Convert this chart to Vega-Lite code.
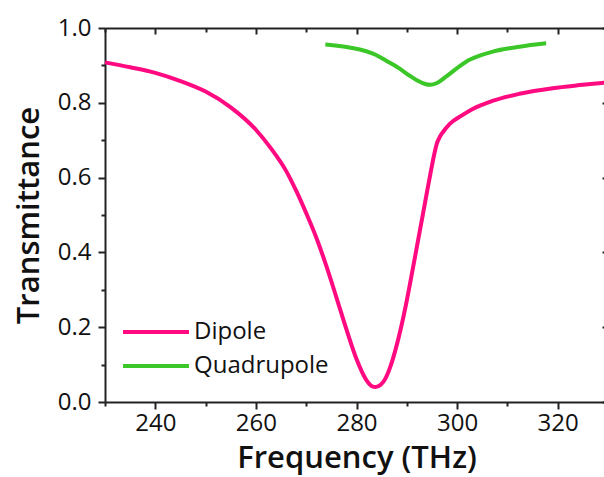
{
  "$schema": "https://vega.github.io/schema/vega-lite/v6.json",
  "width": 503,
  "height": 374,
  "autosize": {"type": "none"},
  "padding": {"left": 105, "top": 28, "right": 0, "bottom": 75},
  "background": "white",
  "config": {
    "view": {"stroke": null},
    "font": "Open Sans",
    "axis": {"domainColor": "#222", "domainWidth": 2, "tickColor": "#222", "tickWidth": 2, "grid": false, "labelColor": "#111", "titleColor": "#111"}
  },
  "datasets": {
    "curves": [
      {"series": "Dipole", "f": 230, "T": 0.908},
      {"series": "Dipole", "f": 235, "T": 0.895},
      {"series": "Dipole", "f": 240, "T": 0.880},
      {"series": "Dipole", "f": 245, "T": 0.858},
      {"series": "Dipole", "f": 250, "T": 0.830},
      {"series": "Dipole", "f": 255, "T": 0.788},
      {"series": "Dipole", "f": 260, "T": 0.728},
      {"series": "Dipole", "f": 263, "T": 0.678},
      {"series": "Dipole", "f": 266, "T": 0.618},
      {"series": "Dipole", "f": 268, "T": 0.565},
      {"series": "Dipole", "f": 270, "T": 0.505},
      {"series": "Dipole", "f": 272, "T": 0.440},
      {"series": "Dipole", "f": 274, "T": 0.364},
      {"series": "Dipole", "f": 276, "T": 0.280},
      {"series": "Dipole", "f": 278, "T": 0.194},
      {"series": "Dipole", "f": 280, "T": 0.115},
      {"series": "Dipole", "f": 281.9, "T": 0.060},
      {"series": "Dipole", "f": 283, "T": 0.043},
      {"series": "Dipole", "f": 283.8, "T": 0.040},
      {"series": "Dipole", "f": 284.8, "T": 0.046},
      {"series": "Dipole", "f": 285.8, "T": 0.064},
      {"series": "Dipole", "f": 286.8, "T": 0.097},
      {"series": "Dipole", "f": 287.8, "T": 0.142},
      {"series": "Dipole", "f": 288.8, "T": 0.196},
      {"series": "Dipole", "f": 289.8, "T": 0.258},
      {"series": "Dipole", "f": 290.8, "T": 0.328},
      {"series": "Dipole", "f": 291.8, "T": 0.400},
      {"series": "Dipole", "f": 292.8, "T": 0.473},
      {"series": "Dipole", "f": 293.8, "T": 0.546},
      {"series": "Dipole", "f": 294.8, "T": 0.618},
      {"series": "Dipole", "f": 295.5, "T": 0.665},
      {"series": "Dipole", "f": 296, "T": 0.692},
      {"series": "Dipole", "f": 296.6, "T": 0.710},
      {"series": "Dipole", "f": 297.2, "T": 0.722},
      {"series": "Dipole", "f": 298.5, "T": 0.743},
      {"series": "Dipole", "f": 300.8, "T": 0.765},
      {"series": "Dipole", "f": 303, "T": 0.783},
      {"series": "Dipole", "f": 307, "T": 0.805},
      {"series": "Dipole", "f": 312.4, "T": 0.824},
      {"series": "Dipole", "f": 319, "T": 0.839},
      {"series": "Dipole", "f": 325, "T": 0.848},
      {"series": "Dipole", "f": 330, "T": 0.855},
      {"series": "Quadrupole", "f": 273.8, "T": 0.956},
      {"series": "Quadrupole", "f": 278.6, "T": 0.948},
      {"series": "Quadrupole", "f": 283.9, "T": 0.928},
      {"series": "Quadrupole", "f": 286, "T": 0.912},
      {"series": "Quadrupole", "f": 288.5, "T": 0.892},
      {"series": "Quadrupole", "f": 290.5, "T": 0.873},
      {"series": "Quadrupole", "f": 291.9, "T": 0.861},
      {"series": "Quadrupole", "f": 293.5, "T": 0.851},
      {"series": "Quadrupole", "f": 294.7, "T": 0.848},
      {"series": "Quadrupole", "f": 296, "T": 0.853},
      {"series": "Quadrupole", "f": 297.8, "T": 0.870},
      {"series": "Quadrupole", "f": 300, "T": 0.893},
      {"series": "Quadrupole", "f": 301.8, "T": 0.910},
      {"series": "Quadrupole", "f": 304.5, "T": 0.926},
      {"series": "Quadrupole", "f": 307.1, "T": 0.937},
      {"series": "Quadrupole", "f": 312.4, "T": 0.950},
      {"series": "Quadrupole", "f": 317.7, "T": 0.959}
    ]
  },
  "data": {"name": "curves"},
  "layer": [
    {
      "mark": {"type": "line", "strokeWidth": 4, "interpolate": "monotone"},
      "encoding": {
        "x": {
          "field": "f", "type": "quantitative",
          "scale": {"domain": [230, 330], "nice": false, "zero": false},
          "axis": {
            "orient": "bottom",
            "values": [230, 240, 250, 260, 270, 280, 290, 300, 310, 320, 330],
            "labelExpr": "datum.value % 20 === 0 && datum.value < 330 ? datum.label : ''",
            "tickSize": {"condition": {"test": "datum.value % 20 === 0", "value": 7}, "value": 4},
            "labelFontSize": 24, "labelPadding": 2,
            "title": "Frequency (THz)", "titleFontSize": 31, "titleFontWeight": 600, "titlePadding": 8,
            "labelFlush": false, "labelOverlap": false
          }
        },
        "y": {
          "field": "T", "type": "quantitative",
          "scale": {"domain": [0, 1], "nice": false},
          "axis": {
            "orient": "left",
            "values": [0, 0.1, 0.2, 0.3, 0.4, 0.5, 0.6, 0.7, 0.8, 0.9, 1.0],
            "labelExpr": "round(datum.value * 10) % 2 === 0 ? format(datum.value, '.1f') : ''",
            "tickSize": {"condition": {"test": "round(datum.value * 10) % 2 === 0", "value": 7}, "value": 4},
            "labelFontSize": 24, "labelPadding": 7,
            "title": "Transmittance", "titleFontSize": 31, "titleFontWeight": 600, "titlePadding": 12,
            "labelFlush": false, "labelOverlap": false
          }
        },
        "color": {
          "field": "series", "type": "nominal",
          "scale": {"domain": ["Dipole", "Quadrupole"], "range": ["#ff0a80", "#3cc728"]},
          "legend": {
            "orient": "none", "legendX": 38, "legendY": 291, "title": null,
            "symbolType": "M-3,0H3", "symbolSize": 484, "symbolStrokeWidth": 4,
            "labelFontSize": 24, "labelOffset": 25, "rowPadding": 9, "padding": 0,
            "labelColor": "#111"
          }
        }
      }
    },
    {
      "mark": {"type": "line", "opacity": 0},
      "encoding": {
        "x": {
          "field": "f", "type": "quantitative",
          "axis": {
            "orient": "top", "labels": false, "title": null,
            "values": [230, 240, 250, 260, 270, 280, 290, 300, 310, 320, 330],
            "tickSize": {"condition": {"test": "datum.value % 20 === 0", "value": -6}, "value": -4}
          }
        },
        "y": {
          "field": "T", "type": "quantitative",
          "axis": {
            "orient": "right", "labels": false, "title": null,
            "values": [0, 0.1, 0.2, 0.3, 0.4, 0.5, 0.6, 0.7, 0.8, 0.9, 1.0],
            "tickSize": {"condition": {"test": "round(datum.value * 10) % 2 === 0", "value": -6}, "value": -4}
          }
        },
        "detail": {"field": "series"}
      }
    }
  ],
  "resolve": {"axis": {"x": "independent", "y": "independent"}}
}
